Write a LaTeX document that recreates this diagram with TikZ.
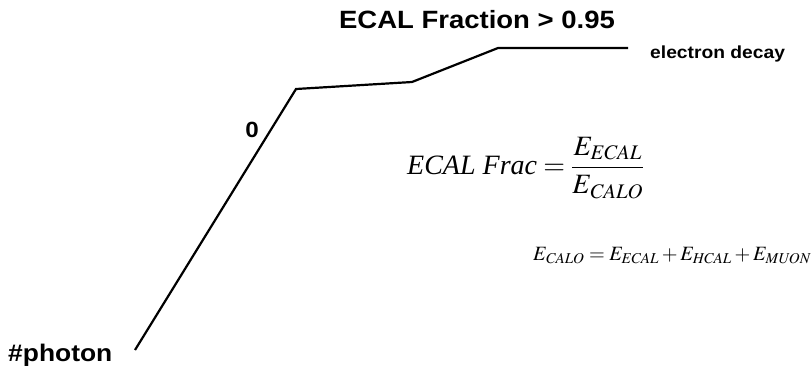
\documentclass[tikz,border=0pt]{standalone}
\usepackage{mathptmx}
\usepackage{fontspec}
\setmainfont{Liberation Serif}
\newfontfamily\hsans[FakeStretch=1.1]{Liberation Sans}
\tikzset{
  curve/.style={line width=2.2pt, line join=miter},
  lbl/.style={inner sep=0pt, font=\hsans\bfseries},
  eq/.style={inner sep=0pt},
}
\begin{document}
\begin{tikzpicture}[x=1pt,y=-1pt]
\useasboundingbox (0,0) rectangle (812,368);
\coordinate (p1) at (135,350);
\coordinate (p2) at (296,89);
\coordinate (p3) at (412,82);
\coordinate (p4) at (498,48);
\coordinate (p5) at (628,48);
\draw[curve] (p1) -- (p2) -- (p3) -- (p4) -- (p5);
\node[lbl, font=\hsans\bfseries\fontsize{25}{28}\selectfont, anchor=base] (title) at (477,28) {ECAL Fraction > 0.95};
\node[lbl, font=\hsans\bfseries\fontsize{17.5}{20}\selectfont, anchor=base west] (ed) at (650,58) {electron decay};
\node[lbl, font=\hsans\bfseries\fontsize{24}{28}\selectfont, anchor=base west] (ph) at (8,361) {\#photon};
\node[lbl, font=\hsans\bfseries\fontsize{22}{26}\selectfont, anchor=base] (zero) at (252,137) {0};
\node[eq, anchor=west, font=\fontsize{28}{32}\selectfont] (frac) at (407,168) {$\displaystyle\textit{ECAL Frac} = \frac{E_{\mathit{ECAL}}}{E_{\mathit{CALO}}}$};
\node[eq, anchor=base west, font=\fontsize{20.3}{24}\selectfont] (calo) at (533,260) {$E_{\mathit{CALO}} = E_{\mathit{ECAL}} + E_{\mathit{HCAL}} + E_{\mathit{MUON}}$};
\end{tikzpicture}
\end{document}
